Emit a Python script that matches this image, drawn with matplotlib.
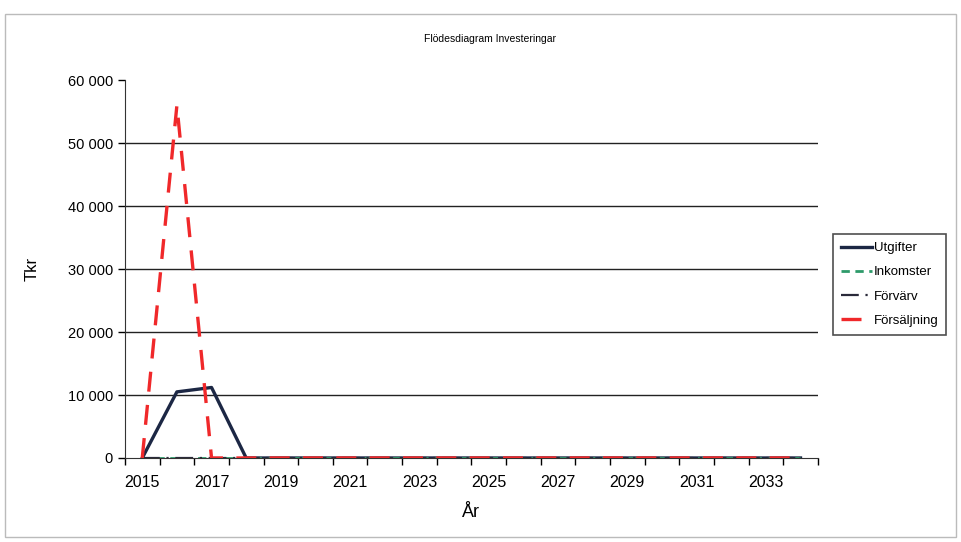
import matplotlib.pyplot as plt
from matplotlib.ticker import FuncFormatter
from matplotlib.patches import Rectangle

years = list(range(2015, 2035))
utgifter = [0, 10500, 11200, 0, 0, 0, 0, 0, 0, 0, 0, 0, 0, 0, 0, 0, 0, 0, 0, 0]
inkomster = [0] * 20
forvarv = [0] * 20
forsaljning = [0, 56000, 0, 0, 0, 0, 0, 0, 0, 0, 0, 0, 0, 0, 0, 0, 0, 0, 0, 0]

plt.rcParams['font.family'] = ['Liberation Sans', 'DejaVu Sans']

fig = plt.figure(figsize=(9.61, 5.42), dpi=100)
ax = fig.add_axes([0.130, 0.155, 0.721, 0.697])

x = list(range(len(years)))
ax.plot(x, utgifter, color='#1c2744', lw=2.4, label='Utgifter', zorder=3)
ax.plot(x, inkomster, color='#2e9a6a', lw=2, ls=(0, (3, 2)), label='Inkomster', zorder=3)
ax.plot(x, forvarv, color='#2a2a3a', lw=1.6, ls=(0, (8, 3, 1, 3)), label='Förvärv', zorder=4)
ax.plot(x, forsaljning, color='#f0282a', lw=2.4, ls=(0, (6, 4)), label='Försäljning', zorder=5)

ax.set_xlim(-0.5, len(years) - 0.5)
ax.set_ylim(0, 60000)
yt = list(range(0, 60001, 10000))
ax.set_yticks(yt)
ax.yaxis.set_major_formatter(FuncFormatter(lambda v, p: f'{int(v):,}'.replace(',', ' ')))
for v in yt[1:-1]:
    ax.axhline(v, color='#222222', lw=1.0, zorder=1)

ax.set_xticks([i for i in x if i % 2 == 0])
ax.set_xticklabels([str(years[i]) for i in x if i % 2 == 0])
ax.set_xticks([i - 0.5 for i in range(len(years) + 1)], minor=True)
ax.tick_params(axis='x', which='major', length=0, labelsize=11.5, pad=12)
ax.tick_params(axis='x', which='minor', length=5, direction='out', width=1)
ax.tick_params(axis='y', length=5, labelsize=10.5, width=1)

for s in ['top', 'right']:
    ax.spines[s].set_visible(False)
ax.spines['left'].set_color('#333333')
ax.spines['bottom'].set_color('#333333')

ax.set_ylabel('Tkr', fontsize=12, labelpad=20)
ax.set_xlabel('År', fontsize=13, labelpad=10)
fig.text(0.51, 0.922, 'Flödesdiagram Investeringar', ha='center', fontsize=7.5)

leg = ax.legend(loc='upper left', bbox_to_anchor=(1.012, 0.61), fontsize=9.5,
                frameon=True, fancybox=False, edgecolor='#222222', handlelength=2.4,
                handletextpad=0.1, borderpad=0.6, labelspacing=0.9)
leg.get_frame().set_linewidth(1.2)

fig.patches.append(Rectangle((0.005, 0.01), 0.99, 0.965, transform=fig.transFigure,
                             fill=False, edgecolor='#bbbbbb', lw=1))

fig.savefig('out.png', dpi=100)
